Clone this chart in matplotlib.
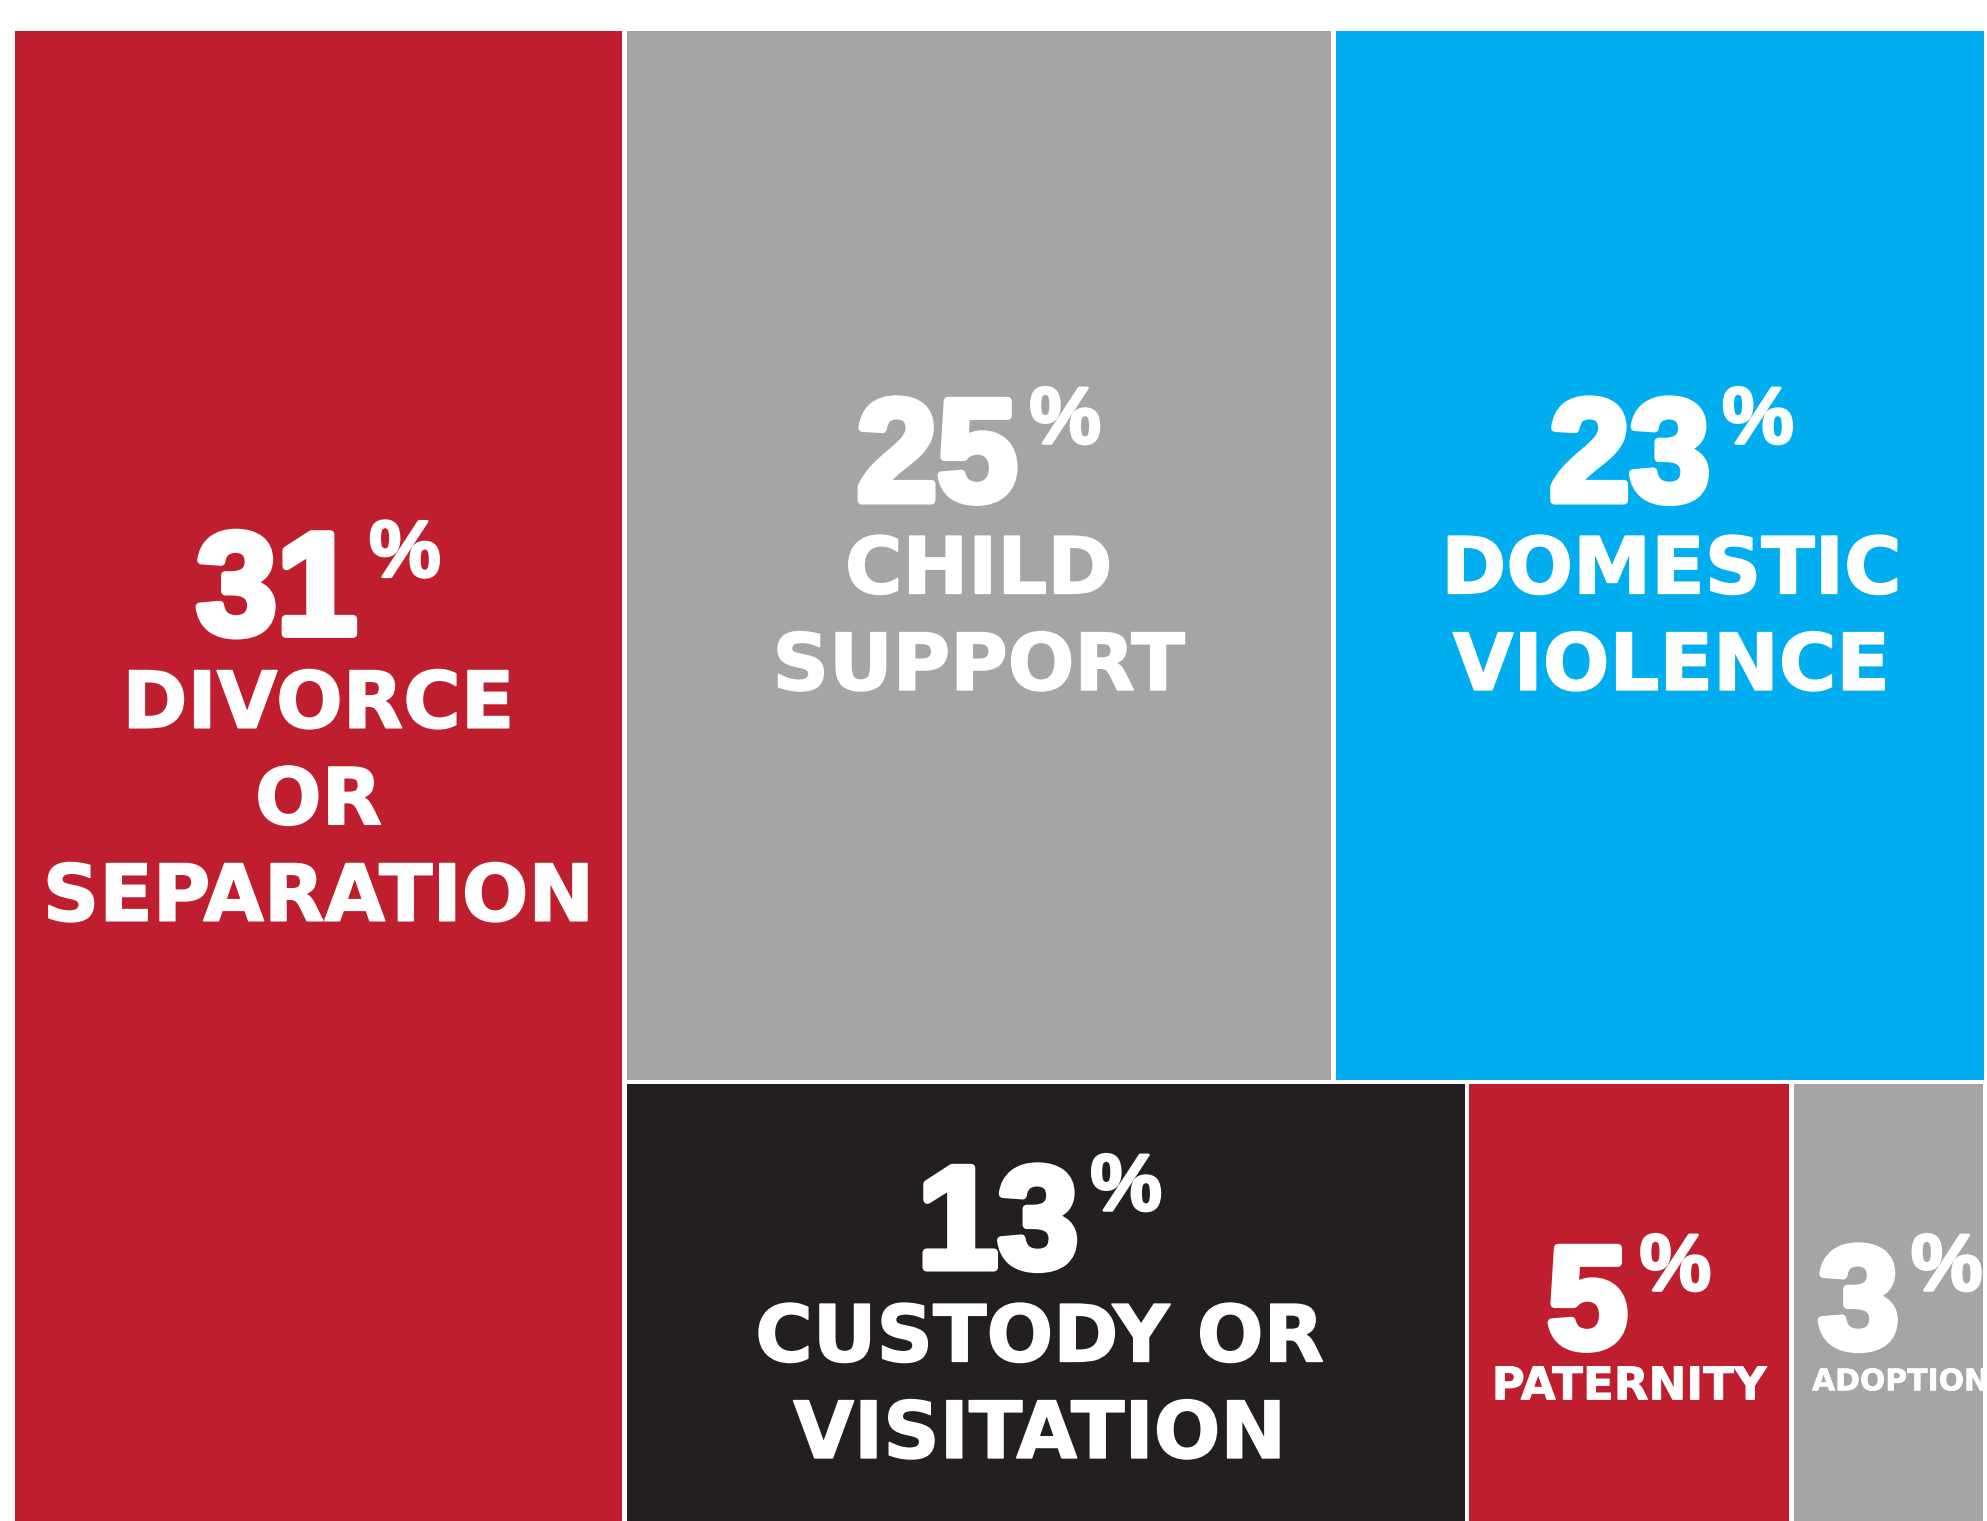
import matplotlib
matplotlib.use("Agg")
import matplotlib.pyplot as plt
from matplotlib.patches import Rectangle
import matplotlib.patheffects as pe

# ---- data ----
categories = ["DIVORCE\nOR\nSEPARATION", "CHILD\nSUPPORT", "DOMESTIC\nVIOLENCE",
              "CUSTODY OR\nVISITATION", "PATERNITY", "ADOPTION"]
values = [31, 25, 23, 13, 5, 3]
colors = ["#BE1E2D", "#A5A5A5", "#00AEEF", "#231F20", "#BE1E2D", "#A5A5A5"]

# ---- layout (slice-and-dice treemap) ----
FW, FH, DPI = 1987, 1521, 100
X0, Y0, W, H = 12.75, 28.75, 1973.0, 1514.0
GAP = 2.25
NUM_FONT = "Liberation Sans"
PCT_FONT = "Liberation Sans"
LAB_FONT = "DejaVu Sans"

total = sum(values)
rects = []
w0 = W * values[0] / total
rects.append((X0, Y0, w0, H))
rest = values[1:]
rx, rw = X0 + w0, W - w0
rows = [rest[:2], rest[2:]]
y = Y0
for row in rows:
    h = H * sum(row) / sum(rest)
    x = rx
    for v in row:
        ww = rw * v / sum(row)
        rects.append((x, y, ww, h))
        x += ww
    y += h

fig = plt.figure(figsize=(FW / DPI, FH / DPI), dpi=DPI)
ax = fig.add_axes([0, 0, 1, 1])
ax.set_xlim(0, FW)
ax.set_ylim(FH, 0)
ax.axis("off")

for (x, y, w, h), c in zip(rects, colors):
    ax.add_patch(Rectangle((x + GAP, y + GAP), w - 2 * GAP, h - 2 * GAP,
                           facecolor=c, edgecolor="none"))

# text styles: label font size, number baseline offset, first label baseline offset, x offset
label_fs = [56.5, 56.5, 56.5, 56.5, 32.5, 21.5]
num_dy = [-152, -55, -55, -45, 35, 35]
lab_dy = [-58, 38, 38, 49, 87, 78]
dxs = [0, 0, 12, -6, 0, 12]
LINE_STEP = 96.5
NUM_FS = 104
PCT_FS = 58
NUM_CAP = 110

fig.canvas.draw()
renderer = fig.canvas.get_renderer()
px = DPI / 72.0

for (x, y, w, h), v, lab, lfs, ndy, ldy, dx in zip(rects, values, categories, label_fs,
                                                  num_dy, lab_dy, dxs):
    cx = x + w / 2 + dx
    cy = y + h / 2
    nb = cy + ndy
    tn = ax.text(0, nb, str(v), fontsize=NUM_FS, fontweight="bold", family=NUM_FONT,
                 color="white", ha="left", va="baseline",
                 path_effects=[pe.withStroke(linewidth=6, foreground="white")])
    pct_base = nb - NUM_CAP - 5 + 0.72 * PCT_FS * px
    tp = ax.text(0, pct_base, "%", fontsize=PCT_FS, fontweight="bold", family=PCT_FONT,
                 color="white", ha="left", va="baseline",
                 path_effects=[pe.withStroke(linewidth=2.0, foreground="white")])
    wn = tn.get_window_extent(renderer).width
    wp = tp.get_window_extent(renderer).width
    g = 12
    start = cx - (wn + g + wp) / 2
    tn.set_x(start)
    tp.set_x(start + wn + g)
    for i, line in enumerate(lab.split("\n")):
        ax.text(cx, cy + ldy + i * LINE_STEP, line, fontsize=lfs,
                fontweight="bold", family=LAB_FONT, color="white", ha="center",
                va="baseline",
                path_effects=[pe.withStroke(linewidth=lfs * 0.02, foreground="white")])

fig.savefig("out.png", dpi=DPI, facecolor="white")
